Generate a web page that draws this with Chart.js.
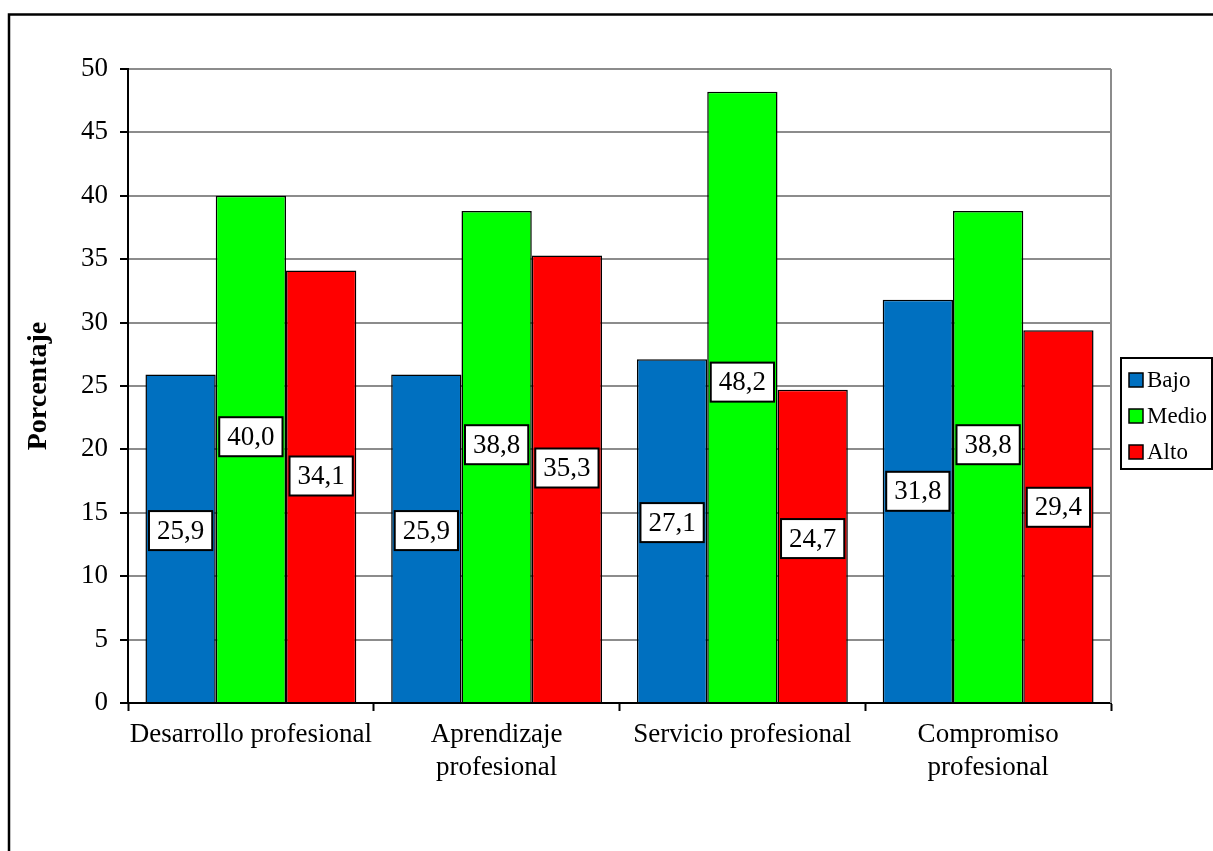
<!DOCTYPE html>
<html>
<head>
<meta charset="utf-8">
<script src="https://cdn.jsdelivr.net/npm/chart.js@4.4.0/dist/chart.umd.min.js"></script>
<style>
  html, body { margin: 0; padding: 0; background: #ffffff; }
  #wrap { width: 1213px; height: 851px; position: relative; }
</style>
</head>
<body>
<div id="wrap"><canvas id="c" width="1213" height="851"></canvas></div>
<script>
const categories = [
  "Desarrollo profesional",
  ["Aprendizaje", "profesional"],
  "Servicio profesional",
  ["Compromiso", "profesional"]
];
const seriesNames = ["Bajo", "Medio", "Alto"];
const bajo  = [25.9, 25.9, 27.1, 31.8];
const medio = [40.0, 38.8, 48.2, 38.8];
const alto  = [34.1, 35.3, 24.7, 29.4];
const yTicks = [0, 5, 10, 15, 20, 25, 30, 35, 40, 45, 50];
const colors = ["#0070C0", "#00FF00", "#FF0000"];

const FONT = "'Liberation Serif', 'Times New Roman', serif";

const framePlugin = {
  id: 'frame',
  beforeDraw(chart) {
    const ctx = chart.ctx;
    ctx.save();
    ctx.fillStyle = '#ffffff';
    ctx.fillRect(0, 0, chart.width, chart.height);
    ctx.restore();
  },
  afterDraw(chart) {
    const ctx = chart.ctx;
    const a = chart.chartArea;
    ctx.save();
    ctx.strokeStyle = '#000';
    ctx.lineWidth = 2.5;
    ctx.beginPath();
    ctx.moveTo(9, chart.height + 5);
    ctx.lineTo(9, 14.5);
    ctx.lineTo(chart.width + 5, 14.5);
    ctx.stroke();
    ctx.strokeStyle = '#8c8c8c';
    ctx.lineWidth = 2;
    ctx.beginPath();
    ctx.moveTo(a.right, a.top);
    ctx.lineTo(a.right, a.bottom);
    ctx.stroke();
    ctx.restore();
  }
};

const labelPlugin = {
  id: 'boxLabels',
  afterDatasetsDraw(chart) {
    const ctx = chart.ctx;
    const y = chart.scales.y;
    ctx.save();
    ctx.font = "27px " + FONT;
    ctx.textAlign = 'center';
    ctx.textBaseline = 'middle';
    chart.data.datasets.forEach((ds, di) => {
      const meta = chart.getDatasetMeta(di);
      meta.data.forEach((bar, i) => {
        const v = ds.data[i];
        const txt = v.toFixed(1).replace('.', ',');
        const cx = bar.x;
        const cy = y.getPixelForValue(v * 0.525);
        const w = ctx.measureText(txt).width + 16;
        const h = 39;
        ctx.fillStyle = '#fff';
        ctx.fillRect(cx - w / 2, cy - h / 2, w, h);
        ctx.strokeStyle = '#000';
        ctx.lineWidth = 2;
        ctx.strokeRect(cx - w / 2, cy - h / 2, w, h);
        ctx.fillStyle = '#000';
        ctx.fillText(txt, cx, cy + 1);
      });
    });
    ctx.restore();
  }
};

const legendPlugin = {
  id: 'boxLegend',
  afterDraw(chart) {
    const ctx = chart.ctx;
    const left = 1121, top = 358, right = 1212, bottom = 469;
    ctx.save();
    ctx.fillStyle = '#fff';
    ctx.fillRect(left, top, right - left, bottom - top);
    ctx.strokeStyle = '#000';
    ctx.lineWidth = 2;
    ctx.strokeRect(left, top, right - left, bottom - top);
    ctx.font = "23px " + FONT;
    ctx.textBaseline = 'middle';
    ctx.textAlign = 'left';
    const rows = [380, 416, 452];
    chart.data.datasets.forEach((ds, i) => {
      const cy = rows[i];
      ctx.fillStyle = ds.backgroundColor;
      ctx.fillRect(1129, cy - 7, 14, 14);
      ctx.strokeStyle = '#000';
      ctx.lineWidth = 1.5;
      ctx.strokeRect(1129, cy - 7, 14, 14);
      ctx.fillStyle = '#000';
      ctx.fillText(ds.label, 1147, cy + 1);
    });
    ctx.restore();
  }
};

new Chart(document.getElementById('c'), {
  type: 'bar',
  data: {
    labels: categories,
    datasets: [
      { label: seriesNames[0], data: bajo,  backgroundColor: colors[0], borderColor: '#000', borderWidth: 1.5 },
      { label: seriesNames[1], data: medio, backgroundColor: colors[1], borderColor: '#000', borderWidth: 1.5 },
      { label: seriesNames[2], data: alto,  backgroundColor: colors[2], borderColor: '#000', borderWidth: 1.5 }
    ]
  },
  options: {
    responsive: false,
    animation: false,
    devicePixelRatio: 1,
    layout: { padding: { left: 0, top: 69, right: 102, bottom: 0 } },
    datasets: { bar: { categoryPercentage: 0.858, barPercentage: 1.0 } },
    plugins: {
      legend: { display: false },
      tooltip: { enabled: false },
      title: { display: false }
    },
    scales: {
      x: {
        offset: true,
        grid: {
          offset: true,
          drawOnChartArea: false,
          drawTicks: true,
          tickLength: 8,
          tickColor: '#000',
          tickWidth: 2
        },
        border: { display: true, color: '#000', width: 2 },
        ticks: {
          color: '#000',
          font: { family: FONT, size: 27, lineHeight: 1.2 },
          padding: 8,
          maxRotation: 0,
          autoSkip: false
        },
        afterFit(scale) { scale.height = 148; }
      },
      y: {
        min: yTicks[0],
        max: yTicks[yTicks.length - 1],
        afterBuildTicks(scale) { scale.ticks = yTicks.map(v => ({ value: v })); },
        grid: {
          color: '#8c8c8c',
          lineWidth: 2,
          drawTicks: true,
          tickLength: 8,
          tickColor: '#000',
          tickWidth: 2
        },
        border: { display: true, color: '#000', width: 2 },
        ticks: {
          color: '#000',
          font: { family: FONT, size: 27 },
          padding: 12
        },
        title: {
          display: true,
          text: 'Porcentaje',
          color: '#000',
          font: { family: FONT, size: 28, weight: 'bold' },
          padding: { top: 22, bottom: 0 }
        },
        afterFit(scale) { scale.width = 128; }
      }
    }
  },
  plugins: [framePlugin, labelPlugin, legendPlugin]
});
</script>
</body>
</html>
